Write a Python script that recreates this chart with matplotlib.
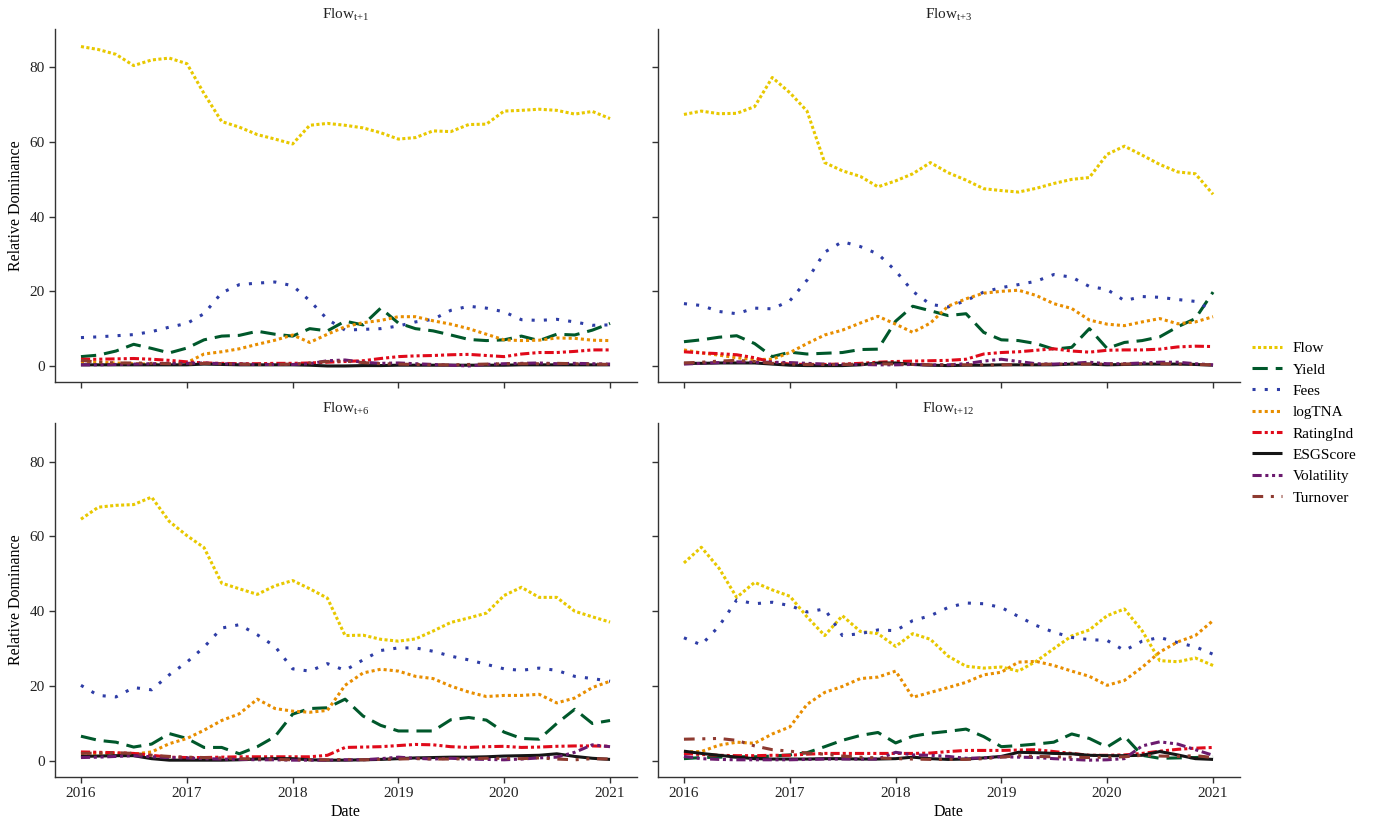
import numpy as np
import pandas as pd
import matplotlib
matplotlib.use("Agg")
import matplotlib.pyplot as plt
import matplotlib.dates as mdates

plt.rcParams['font.family'] = ['Liberation Serif', 'DejaVu Serif']
plt.rcParams['mathtext.fontset'] = 'custom'
plt.rcParams['mathtext.rm'] = 'Liberation Serif'
plt.rcParams['mathtext.it'] = 'Liberation Serif:italic'

# bimonthly dates, Jan 2016 .. Jan 2021
dates = pd.date_range('2016-01-01', periods=31, freq='2MS')

variables = ['Flow', 'Yield', 'Fees', 'logTNA', 'RatingInd', 'ESGScore', 'Volatility', 'Turnover']
panels = ['t+1', 't+3', 't+6', 't+12']

# ---- Flow t+1 ----
flow_t1 = [85.6, 84.8, 83.5, 80.5, 82.0, 82.5, 81.0, 73.0, 65.5, 64.0, 62.0, 60.8, 59.5, 64.5, 65.0, 64.5,
           63.8, 62.5, 60.8, 61.2, 63.0, 62.8, 64.7, 64.8, 68.3, 68.5, 68.8, 68.5, 67.5, 68.2, 66.3]
yield_t1 = [2.5, 2.9, 4.0, 5.8, 4.7, 3.5, 4.8, 7.0, 8.0, 8.2, 9.3, 8.5, 8.0, 10.0, 9.4, 12.0,
            11.0, 15.5, 11.5, 10.0, 9.4, 8.3, 7.1, 6.8, 7.0, 8.0, 6.8, 8.5, 8.3, 9.6, 11.4]
fees_t1 = [7.6, 7.8, 8.1, 8.4, 9.2, 10.4, 11.4, 14.0, 19.6, 21.8, 22.2, 22.5, 21.5, 17.5, 12.5, 9.6,
           9.8, 10.0, 10.7, 11.8, 12.5, 14.9, 16.0, 15.5, 14.5, 12.4, 12.2, 12.5, 11.8, 10.9, 11.0]
logtna_t1 = [1.2, 1.0, 0.8, 0.6, 0.5, 0.6, 0.9, 3.2, 3.8, 4.6, 5.8, 6.9, 8.3, 6.3, 8.5, 10.5,
             11.6, 12.2, 13.2, 13.2, 12.1, 11.2, 10.0, 8.5, 7.0, 6.8, 6.9, 7.5, 7.4, 6.9, 6.8]
rating_t1 = [1.8, 1.8, 1.9, 2.0, 1.8, 1.5, 1.1, 0.8, 0.7, 0.6, 0.6, 0.7, 0.7, 0.8, 1.0, 1.2,
             1.4, 2.0, 2.5, 2.7, 2.8, 3.0, 3.1, 2.8, 2.5, 3.2, 3.6, 3.6, 3.9, 4.3, 4.3]
esg_t1 = [0.3, 0.3, 0.3, 0.3, 0.3, 0.3, 0.3, 0.5, 0.4, 0.3, 0.3, 0.3, 0.3, 0.2, 0.0, 0.0,
          0.1, 0.1, 0.2, 0.2, 0.2, 0.2, 0.2, 0.2, 0.2, 0.3, 0.3, 0.3, 0.3, 0.3, 0.3]
vol_t1 = [0.3, 0.3, 0.4, 0.5, 0.6, 0.7, 0.7, 0.8, 0.6, 0.5, 0.4, 0.4, 0.4, 0.6, 1.4, 1.6,
          1.0, 0.7, 0.8, 0.6, 0.4, 0.2, 0.0, 0.4, 0.6, 0.7, 0.8, 0.6, 0.7, 0.6, 0.5]
turn_t1 = [1.5, 1.0, 0.8, 0.8, 0.7, 0.6, 0.5, 0.7, 0.6, 0.5, 0.4, 0.4, 0.5, 0.8, 1.2, 1.3,
           0.9, 0.6, 0.5, 0.4, 0.3, 0.3, 0.4, 0.5, 0.6, 0.6, 0.6, 0.7, 0.6, 0.5, 0.4]

# ---- Flow t+3 ----
flow_t3 = [67.4, 68.3, 67.6, 67.7, 69.5, 77.3, 73.2, 68.3, 54.5, 52.3, 50.8, 48.0, 49.6, 51.5, 54.5, 51.8,
           49.8, 47.5, 47.0, 46.6, 47.6, 48.9, 50.0, 50.5, 56.7, 58.9, 56.5, 54.0, 52.0, 51.5, 46.0]
yield_t3 = [6.5, 7.0, 7.7, 8.1, 6.0, 2.5, 3.7, 3.2, 3.4, 3.6, 4.4, 4.5, 12.0, 16.0, 14.8, 13.5,
            14.0, 9.0, 7.0, 6.8, 6.0, 4.5, 5.0, 10.0, 4.7, 6.3, 6.8, 7.8, 10.5, 12.7, 19.8]
fees_t3 = [16.7, 16.2, 14.6, 14.0, 15.5, 15.3, 17.5, 23.0, 30.5, 33.3, 32.0, 30.0, 25.5, 20.0, 16.5, 15.8,
           17.5, 19.8, 21.0, 21.8, 22.7, 24.5, 23.8, 21.3, 20.5, 17.5, 18.6, 18.4, 17.8, 17.3, 14.9]
logtna_t3 = [4.3, 3.5, 2.9, 2.2, 1.7, 1.8, 3.6, 6.0, 8.3, 9.6, 11.5, 13.3, 11.2, 9.0, 11.5, 16.0,
             18.0, 19.5, 20.0, 20.3, 18.9, 16.7, 15.4, 12.3, 11.2, 10.8, 11.8, 12.7, 11.3, 11.8, 13.2]
rating_t3 = [3.8, 3.5, 3.3, 3.0, 2.2, 1.0, 0.5, 0.4, 0.4, 0.5, 0.7, 1.0, 1.2, 1.3, 1.4, 1.5,
             1.8, 3.2, 3.6, 3.8, 4.2, 4.6, 4.0, 3.7, 4.2, 4.3, 4.3, 4.5, 5.1, 5.3, 5.2]
esg_t3 = [0.7, 0.7, 0.8, 0.8, 0.8, 0.5, 0.2, 0.1, 0.1, 0.1, 0.3, 0.8, 0.8, 0.4, 0.2, 0.1,
          0.2, 0.2, 0.3, 0.3, 0.3, 0.3, 0.5, 0.5, 0.3, 0.4, 0.5, 0.5, 0.5, 0.4, 0.2]
vol_t3 = [0.5, 0.7, 0.9, 1.1, 1.0, 1.0, 0.9, 0.7, 0.5, 0.4, 0.4, 0.3, 0.3, 0.4, 0.3, 0.3,
          0.6, 1.3, 1.8, 1.2, 0.6, 0.5, 0.7, 1.0, 0.6, 0.6, 0.8, 1.0, 1.0, 0.6, 0.3]
turn_t3 = [0.8, 1.0, 1.3, 1.5, 1.2, 0.7, 0.5, 0.4, 0.4, 0.4, 0.5, 0.6, 0.5, 0.4, 0.3, 0.3,
           0.3, 0.3, 0.3, 0.4, 0.4, 0.5, 0.5, 0.5, 0.5, 0.5, 0.6, 0.6, 0.5, 0.4, 0.3]

# ---- Flow t+6 ----
flow_t6 = [64.6, 67.8, 68.3, 68.5, 70.5, 64.0, 60.2, 57.0, 47.5, 46.0, 44.5, 46.8, 48.2, 46.0, 43.5, 33.5,
           33.6, 32.5, 32.0, 32.6, 34.7, 37.0, 38.2, 39.5, 44.2, 46.4, 43.7, 43.7, 40.0, 38.5, 37.1]
yield_t6 = [6.6, 5.5, 5.0, 3.7, 4.5, 7.3, 6.0, 3.6, 3.6, 1.9, 3.8, 6.5, 12.5, 14.0, 14.2, 16.5,
            12.0, 9.5, 8.0, 8.0, 8.0, 11.0, 11.6, 10.9, 7.7, 6.0, 5.8, 10.0, 13.8, 10.0, 10.8]
fees_t6 = [20.2, 17.5, 17.1, 19.6, 19.0, 23.0, 26.4, 30.4, 35.5, 36.4, 33.7, 30.6, 24.6, 24.0, 26.0, 24.2,
           27.0, 29.5, 30.2, 30.2, 29.3, 28.0, 27.0, 25.8, 24.6, 24.2, 24.8, 24.2, 22.6, 22.0, 21.3]
logtna_t6 = [2.0, 2.0, 2.0, 1.8, 2.4, 4.6, 6.0, 8.2, 10.8, 12.6, 16.5, 14.0, 13.3, 13.0, 13.5, 20.2,
             23.5, 24.5, 24.0, 22.6, 22.0, 20.0, 18.4, 17.2, 17.5, 17.5, 17.8, 15.5, 16.8, 19.6, 21.3]
rating_t6 = [2.4, 2.3, 2.2, 2.0, 1.5, 1.0, 0.9, 0.9, 1.0, 1.1, 1.1, 1.1, 1.1, 1.1, 1.5, 3.6,
             3.7, 3.8, 4.1, 4.4, 4.3, 3.8, 3.6, 3.8, 3.9, 3.6, 3.7, 3.9, 4.0, 4.0, 3.9]
esg_t6 = [1.2, 1.3, 1.4, 1.4, 0.6, 0.2, 0.2, 0.2, 0.2, 0.3, 0.5, 0.6, 0.6, 0.3, 0.2, 0.2,
          0.3, 0.4, 0.6, 0.8, 0.9, 1.0, 1.0, 1.1, 1.3, 1.4, 1.5, 1.9, 1.2, 0.7, 0.4]
vol_t6 = [0.9, 1.0, 1.2, 1.4, 1.1, 0.9, 0.8, 0.6, 0.5, 0.4, 0.3, 0.3, 0.2, 0.2, 0.2, 0.3,
          0.3, 0.6, 1.0, 0.7, 0.5, 0.7, 0.5, 0.4, 0.3, 0.5, 0.8, 1.0, 2.3, 4.3, 3.8]
turn_t6 = [2.0, 2.1, 2.2, 2.0, 1.5, 1.2, 1.0, 0.9, 0.8, 0.6, 0.5, 0.4, 0.3, 0.3, 0.3, 0.4,
           0.3, 0.4, 0.5, 0.6, 0.5, 0.5, 0.6, 0.7, 0.7, 0.6, 0.8, 0.5, 0.3, 0.6, 0.5]

# ---- Flow t+12 ----
flow_t12 = [52.9, 57.1, 51.5, 43.7, 47.7, 45.7, 44.0, 38.5, 33.5, 38.8, 34.6, 34.0, 30.6, 34.0, 32.5, 28.0,
            25.3, 24.8, 25.1, 24.0, 26.6, 30.0, 33.4, 35.0, 38.8, 40.6, 34.8, 26.8, 26.5, 27.5, 25.5]
yield_t12 = [0.6, 0.9, 1.0, 1.1, 1.1, 1.3, 1.6, 2.2, 3.8, 5.5, 6.8, 7.6, 4.8, 6.6, 7.4, 7.9,
             8.5, 6.5, 3.8, 4.1, 4.5, 5.0, 7.2, 6.0, 3.7, 6.6, 1.5, 0.7, 0.8, 0.9, 1.1]
fees_t12 = [32.9, 31.0, 36.0, 43.0, 42.0, 42.4, 41.5, 39.8, 40.6, 33.5, 34.0, 35.0, 34.8, 37.5, 38.8, 41.0,
            42.2, 42.0, 41.0, 38.6, 36.2, 34.4, 33.0, 32.4, 32.2, 29.5, 32.0, 33.0, 31.6, 30.5, 28.5]
logtna_t12 = [2.4, 2.5, 4.2, 5.0, 4.7, 7.2, 9.1, 15.1, 18.3, 19.9, 22.0, 22.4, 24.0, 17.0, 18.3, 19.6,
              21.0, 23.0, 23.7, 26.4, 26.6, 25.5, 24.0, 22.6, 20.2, 21.5, 25.0, 29.1, 31.8, 33.5, 37.5]
rating_t12 = [2.0, 1.7, 1.5, 1.4, 1.4, 1.5, 1.5, 1.8, 2.0, 2.0, 2.0, 2.0, 2.0, 2.0, 2.1, 2.5,
              2.8, 2.8, 2.8, 2.9, 3.0, 2.5, 2.0, 1.5, 1.5, 1.6, 2.0, 2.6, 3.1, 3.4, 3.6]
esg_t12 = [2.6, 2.0, 1.5, 1.0, 0.6, 0.5, 0.5, 0.5, 0.6, 0.6, 0.5, 0.5, 0.6, 1.0, 0.6, 0.4,
           0.5, 0.8, 1.2, 2.3, 2.2, 2.0, 1.9, 1.5, 1.4, 1.4, 1.5, 2.5, 1.6, 0.6, 0.4]
vol_t12 = [1.2, 0.6, 0.4, 0.3, 0.3, 0.3, 0.3, 0.4, 0.5, 0.5, 0.5, 0.5, 2.3, 1.6, 1.5, 1.2,
           0.7, 0.8, 1.1, 1.0, 0.9, 0.6, 0.4, 0.2, 0.3, 0.6, 4.0, 5.1, 4.5, 3.0, 1.5]
turn_t12 = [5.8, 5.9, 6.0, 5.5, 4.0, 3.0, 2.6, 2.1, 1.8, 1.3, 1.0, 0.8, 0.6, 0.5, 0.4, 0.4,
            0.4, 0.6, 1.0, 1.4, 1.2, 1.1, 1.0, 0.9, 1.0, 1.1, 1.5, 1.3, 1.2, 1.4, 0.9]

panel_data = {
    't+1': [flow_t1, yield_t1, fees_t1, logtna_t1, rating_t1, esg_t1, vol_t1, turn_t1],
    't+3': [flow_t3, yield_t3, fees_t3, logtna_t3, rating_t3, esg_t3, vol_t3, turn_t3],
    't+6': [flow_t6, yield_t6, fees_t6, logtna_t6, rating_t6, esg_t6, vol_t6, turn_t6],
    't+12': [flow_t12, yield_t12, fees_t12, logtna_t12, rating_t12, esg_t12, vol_t12, turn_t12],
}

colors = {
    'Flow': '#E8C800', 'Yield': '#00582B', 'Fees': '#2E3DA6', 'logTNA': '#E88E00',
    'RatingInd': '#E00A1A', 'ESGScore': '#151515', 'Volatility': '#6B1A6E', 'Turnover': '#8E3A30',
}
dashes = {
    'Flow': (0, (1.0, 0.8)),
    'Yield': (0, (5.0, 2.6)),
    'Fees': (0, (1.0, 3.0)),
    'logTNA': (0, (1.0, 1.0)),
    'RatingInd': (0, (3.0, 1.0, 1.0, 1.0, 1.0, 1.0)),
    'ESGScore': '-',
    'Volatility': (0, (3.0, 1.2, 1.0, 1.2, 1.0, 1.2)),
    'Turnover': (0, (3.5, 2.5, 1.0, 2.5, 1.0, 2.5)),
}

W, H = 1373, 822
fig = plt.figure(figsize=(W / 100, H / 100), dpi=100)

boxes = [  # left, top, right, bottom in pixels
    (54.5, 29, 636.5, 382),
    (657.5, 29, 1239.5, 382),
    (54.5, 423, 636.5, 777),
    (657.5, 423, 1239.5, 777),
]

start = pd.Timestamp('2016-01-01')
end = pd.Timestamp('2021-01-01')
pad = (end - start) * 0.05

axes = []
for i, (p, (l, t, r, b)) in enumerate(zip(panels, boxes)):
    ax = fig.add_axes([l / W, 1 - b / H, (r - l) / W, (b - t) / H])
    axes.append(ax)
    for name, vals in zip(variables, panel_data[p]):
        ax.plot(dates, vals, color=colors[name], linestyle=dashes[name], lw=2.2,
                label=name, solid_capstyle='butt', dash_capstyle='butt')
    ax.set_xlim(start - pad, end + pad)
    ax.set_ylim(-4.3, 90.3)
    ax.set_yticks([0, 20, 40, 60, 80])
    ax.xaxis.set_major_locator(mdates.YearLocator())
    ax.xaxis.set_major_formatter(mdates.DateFormatter('%Y'))
    for s in ['top', 'right']:
        ax.spines[s].set_visible(False)
    for s in ['left', 'bottom']:
        ax.spines[s].set_linewidth(1.0)
        ax.spines[s].set_color('#333333')
    ax.tick_params(direction='out', length=4, width=1.0, color='#333333',
                   labelsize=11, labelcolor='#222222', pad=3)
    sub = p.replace('+', '{+}')
    ax.set_title(r'Flow$_{\rm %s}$' % sub, fontsize=11, pad=7, color='#222222')
    if i % 2 == 1:
        ax.tick_params(labelleft=False)
    else:
        ax.set_ylabel('Relative Dominance', fontsize=11.5, labelpad=4)
    if i < 2:
        ax.tick_params(labelbottom=False)
    else:
        ax.set_xlabel('Date', fontsize=11.5, labelpad=3)

handles, labels = axes[0].get_legend_handles_labels()
fig.legend(handles, labels, loc='center left', bbox_to_anchor=(1238 / W, 1 - 423 / H),
           frameon=False, fontsize=11, handlelength=2.0, handletextpad=0.7,
           labelspacing=0.5)

fig.savefig('out.png', dpi=100)
